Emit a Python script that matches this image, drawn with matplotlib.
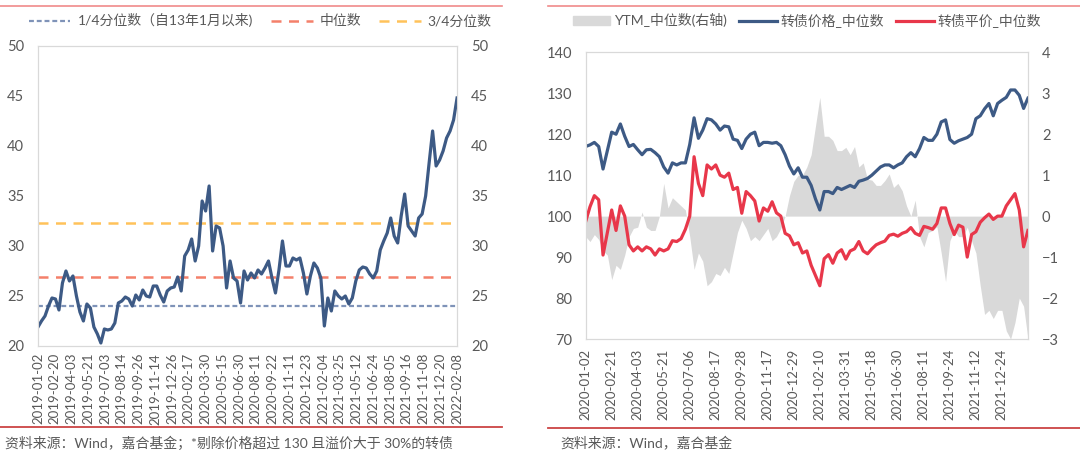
import numpy as np
import matplotlib
matplotlib.use('Agg')
import matplotlib.pyplot as plt
from matplotlib.lines import Line2D
from matplotlib.patches import Patch

plt.rcParams['font.family'] = ['Lato', 'Noto Sans CJK SC', 'DejaVu Sans']

# ---- left chart data ----
left_dates = ['2019-01-02', '2019-02-20', '2019-04-03', '2019-05-21', '2019-07-03',
              '2019-08-14', '2019-09-26', '2019-11-14', '2019-12-26', '2020-02-17',
              '2020-03-30', '2020-05-15', '2020-06-30', '2020-08-11', '2020-09-22',
              '2020-11-11', '2020-12-23', '2021-02-04', '2021-03-25', '2021-05-12',
              '2021-06-24', '2021-08-05', '2021-09-16', '2021-11-08', '2021-12-20',
              '2022-02-08']
left_values = [21.9, 22.5, 23.0, 24.0, 24.8, 24.7, 23.6, 26.3, 27.5, 26.5,
               27.0, 25.0, 23.4, 22.5, 24.2, 23.8, 21.9, 21.2, 20.3, 21.7,
               21.6, 21.7, 22.3, 24.3, 24.5, 24.9, 24.7, 24.0, 25.1, 24.6,
               25.6, 25.0, 24.9, 26.0, 26.0, 25.1, 24.4, 25.5, 25.8, 25.9,
               26.9, 25.5, 29.0, 29.6, 30.7, 28.5, 30.0, 34.5, 33.5, 36.0,
               29.5, 32.0, 31.8, 30.0, 25.8, 28.5, 26.8, 26.5, 24.3, 27.5,
               26.6, 27.3, 26.8, 27.6, 27.2, 27.8, 28.5, 26.8, 25.3, 27.6,
               30.5, 28.0, 28.0, 28.8, 28.6, 28.8, 27.3, 25.2, 27.0, 28.3,
               27.8, 26.8, 22.0, 24.8, 23.5, 25.5, 25.0, 24.7, 25.0, 24.2,
               24.8, 26.5, 27.6, 27.9, 27.8, 27.2, 26.8, 27.5, 29.6, 30.5,
               31.3, 32.8, 31.0, 30.3, 33.0, 35.2, 32.0, 31.5, 31.0, 32.8,
               33.2, 35.0, 38.3, 41.5, 38.0, 38.6, 39.5, 40.8, 41.5, 42.6,
               44.8]
q1, q2, q3 = 24.0, 26.9, 32.3

# ---- right chart data ----
right_dates = ['2020-01-02', '2020-02-21', '2020-04-03', '2020-05-21', '2020-07-06',
               '2020-08-17', '2020-09-28', '2020-11-17', '2020-12-29', '2021-02-10',
               '2021-03-31', '2021-05-18', '2021-06-30', '2021-08-11', '2021-09-24',
               '2021-11-12', '2021-12-24']
price = [117.0, 117.4, 118.0, 117.0, 111.5, 116.0, 120.5, 120.0, 122.5, 119.5,
         117.0, 117.5, 116.2, 115.0, 116.2, 116.3, 115.5, 114.5, 112.0, 110.5,
         113.0, 112.5, 113.0, 113.0, 117.5, 124.0, 119.0, 121.0, 123.8, 123.5,
         122.5, 121.0, 122.0, 121.8, 118.8, 118.5, 116.5, 118.8, 120.0, 120.5,
         117.2, 118.0, 118.0, 117.8, 118.0, 117.2, 115.0, 112.2, 110.3, 111.8,
         109.5, 109.5, 107.5, 104.2, 101.5, 106.0, 106.0, 105.5, 107.0, 106.5,
         107.0, 107.5, 107.0, 108.5, 108.8, 109.2, 110.0, 111.0, 112.0, 112.5,
         112.5, 111.8, 112.5, 113.0, 114.5, 115.5, 114.5, 116.5, 119.2, 118.5,
         118.5, 120.0, 123.0, 123.5, 118.7, 117.8, 118.4, 118.8, 119.2, 120.0,
         123.8, 124.5, 126.2, 127.5, 124.5, 127.5, 128.3, 129.0, 130.8, 130.8,
         129.5, 126.3, 128.8]
parity = [98.7, 102.3, 105.0, 104.0, 90.5, 96.0, 101.5, 96.5, 102.5, 100.0,
          93.0, 91.5, 92.5, 91.5, 92.5, 92.0, 90.5, 92.0, 91.5, 92.0,
          94.0, 93.8, 94.5, 96.8, 100.0, 114.5, 108.0, 105.0, 112.5, 111.5,
          112.5, 110.0, 109.5, 110.5, 106.5, 107.0, 100.7, 106.0, 105.0, 103.7,
          98.8, 102.0, 101.2, 103.5, 100.8, 100.0, 95.8, 95.2, 93.0, 93.5,
          91.0, 91.5, 88.0, 85.5, 83.0, 89.6, 90.6, 88.5, 91.0, 91.8,
          89.5, 91.5, 92.0, 93.8, 91.5, 90.8, 92.0, 93.0, 93.5, 93.9,
          95.3, 95.6, 95.1, 95.8, 96.2, 97.2, 95.8, 95.3, 97.5, 97.2,
          96.8, 98.2, 102.0, 102.0, 98.2, 95.5, 97.8, 97.3, 90.0, 95.5,
          96.2, 98.5, 99.6, 100.5, 99.2, 100.0, 100.0, 102.5, 104.0, 105.5,
          101.5, 92.5, 96.5]
ytm = [-0.50, -0.62, -0.45, -0.57, -0.85, -0.95, -1.55, -1.20, -1.30, -0.95,
       -0.50, -0.30, -0.27, 0.10, -0.27, -0.35, -0.35, 0.00, 0.80, 0.20,
       0.45, 0.35, 0.25, 0.15, -0.50, -1.30, -0.90, -1.10, -1.70, -1.60,
       -1.40, -1.45, -1.25, -1.40, -0.90, -0.40, -0.10, -0.30, -0.60, -0.50,
       -0.60, -0.45, -0.30, -0.60, -0.50, -0.30, 0.00, 0.50, 0.85, 1.00,
       1.00, 1.20, 1.50, 2.20, 2.90, 1.95, 1.95, 1.85, 1.60, 1.60,
       1.68, 1.50, 1.70, 1.20, 1.30, 0.90, 0.88, 0.75, 0.75, 0.87,
       1.03, 0.70, 0.80, 0.62, 0.25, 0.00, 0.39, -0.50, -0.75, -0.40,
       -0.35, -0.26, -0.90, -1.60, -0.60, -0.35, -0.50, -0.50, -0.27, -0.60,
       -0.90, -1.70, -2.40, -2.30, -2.50, -2.30, -2.30, -2.80, -3.00, -2.60,
       -2.00, -2.20, -3.00]

grey_txt = '#595959'
frame = '#D9D9D9'
blue = '#3D5A85'
red = '#E8374A'

fig = plt.figure(figsize=(10.8, 4.54), dpi=100)

# ================= left chart =================
ax = fig.add_axes([0.0352, 0.2379, 0.388, 0.6608])
xl = np.arange(len(left_values))
ax.plot(xl, left_values, color=blue, lw=2.3, zorder=3)
ax.axhline(q1, color='#7F93B8', lw=1.6, ls=(0, (2.2, 1.3)), zorder=2)
ax.axhline(q2, color='#F4806A', lw=1.8, ls=(0, (4, 3)), zorder=2)
ax.axhline(q3, color='#FFC25A', lw=1.8, ls=(0, (4, 3)), zorder=2)
ax.set_xlim(0, len(left_values) - 1)
ax.set_ylim(20, 50)
ax.set_yticks(range(20, 51, 5))
ax.set_xticks(np.linspace(0, len(left_values) - 1, len(left_dates)))
ax.set_xticklabels(left_dates, rotation=90)
ax2 = ax.twinx()
ax2.set_ylim(20, 50)
ax2.set_yticks(range(20, 51, 5))
for a in (ax, ax2):
    for s in a.spines.values():
        s.set_color(frame)
        s.set_linewidth(0.8)
    a.tick_params(length=0, labelsize=10.5, colors=grey_txt)
ax.tick_params(axis='y', pad=10)
ax2.tick_params(axis='y', pad=10)
ax.tick_params(axis='x', pad=5, labelsize=9.5)

h_left = [Line2D([], [], color='#7F93B8', lw=1.6, ls=(0, (2.2, 1.3))),
          Line2D([], [], color='#F4806A', lw=1.8, ls=(0, (4, 3))),
          Line2D([], [], color='#FFC25A', lw=1.8, ls=(0, (4, 3)))]
fig.legend(h_left, ['1/4分位数（自13年1月以来)', '中位数', '3/4分位数'],
           loc='center', bbox_to_anchor=(0.241, 0.955), ncol=3, frameon=False,
           fontsize=10, handlelength=3.0, columnspacing=1.3, handletextpad=0.5,
           labelcolor=grey_txt)

# ================= right chart =================
bx = fig.add_axes([0.5423, 0.2533, 0.4095, 0.6315])
bx2 = bx.twinx()
xr = np.arange(len(price))
bx2.fill_between(xr, 0, ytm, color=frame, lw=0)
bx.plot(xr, price, color=blue, lw=2.3)
bx.plot(xr, parity, color=red, lw=2.3)
bx.set_zorder(bx2.get_zorder() + 1)
bx.patch.set_visible(False)
bx.set_xlim(0, len(price) - 1)
bx.set_ylim(70, 140)
bx.set_yticks(range(70, 141, 10))
bx2.set_ylim(-3, 4)
bx2.set_yticks(range(-3, 5))
bx.set_xticks(np.arange(len(right_dates)) * 6)
bx.set_xticklabels(right_dates, rotation=90)
for a in (bx, bx2):
    for s in a.spines.values():
        s.set_color(frame)
        s.set_linewidth(0.8)
    a.tick_params(length=0, labelsize=10.5, colors=grey_txt)
bx.tick_params(axis='y', pad=10)
bx2.tick_params(axis='y', pad=10)
bx.tick_params(axis='x', pad=7, labelsize=9.5)

h_right = [Patch(color=frame), Line2D([], [], color=blue, lw=2.3),
           Line2D([], [], color=red, lw=2.3)]
fig.legend(h_right, ['YTM_中位数(右轴)', '转债价格_中位数', '转债平价_中位数'],
           loc='center', bbox_to_anchor=(0.747, 0.955), ncol=3, frameon=False,
           fontsize=10, handlelength=2.7, columnspacing=0.9, handletextpad=0.25,
           labelcolor=grey_txt)

# ---- separators and source notes ----
fig.add_artist(Line2D([0.0, 0.465], [0.987, 0.987], color='#F08A8A', lw=1.2))
fig.add_artist(Line2D([0.507, 1.0], [0.987, 0.987], color='#F08A8A', lw=1.2))
fig.add_artist(Line2D([0.0, 0.465], [0.059, 0.059], color='#CC4444', lw=1.3))
fig.add_artist(Line2D([0.507, 1.0], [0.057, 0.057], color='#CC4444', lw=1.3))
fig.text(0.005, 0.024, '资料来源：Wind，嘉合基金；*剔除价格超过 130 且溢价大于 30%的转债',
         fontsize=10, color=grey_txt, va='center')
fig.text(0.519, 0.024, '资料来源：Wind，嘉合基金', fontsize=10, color=grey_txt, va='center')

fig.savefig('out.png', dpi=100)
